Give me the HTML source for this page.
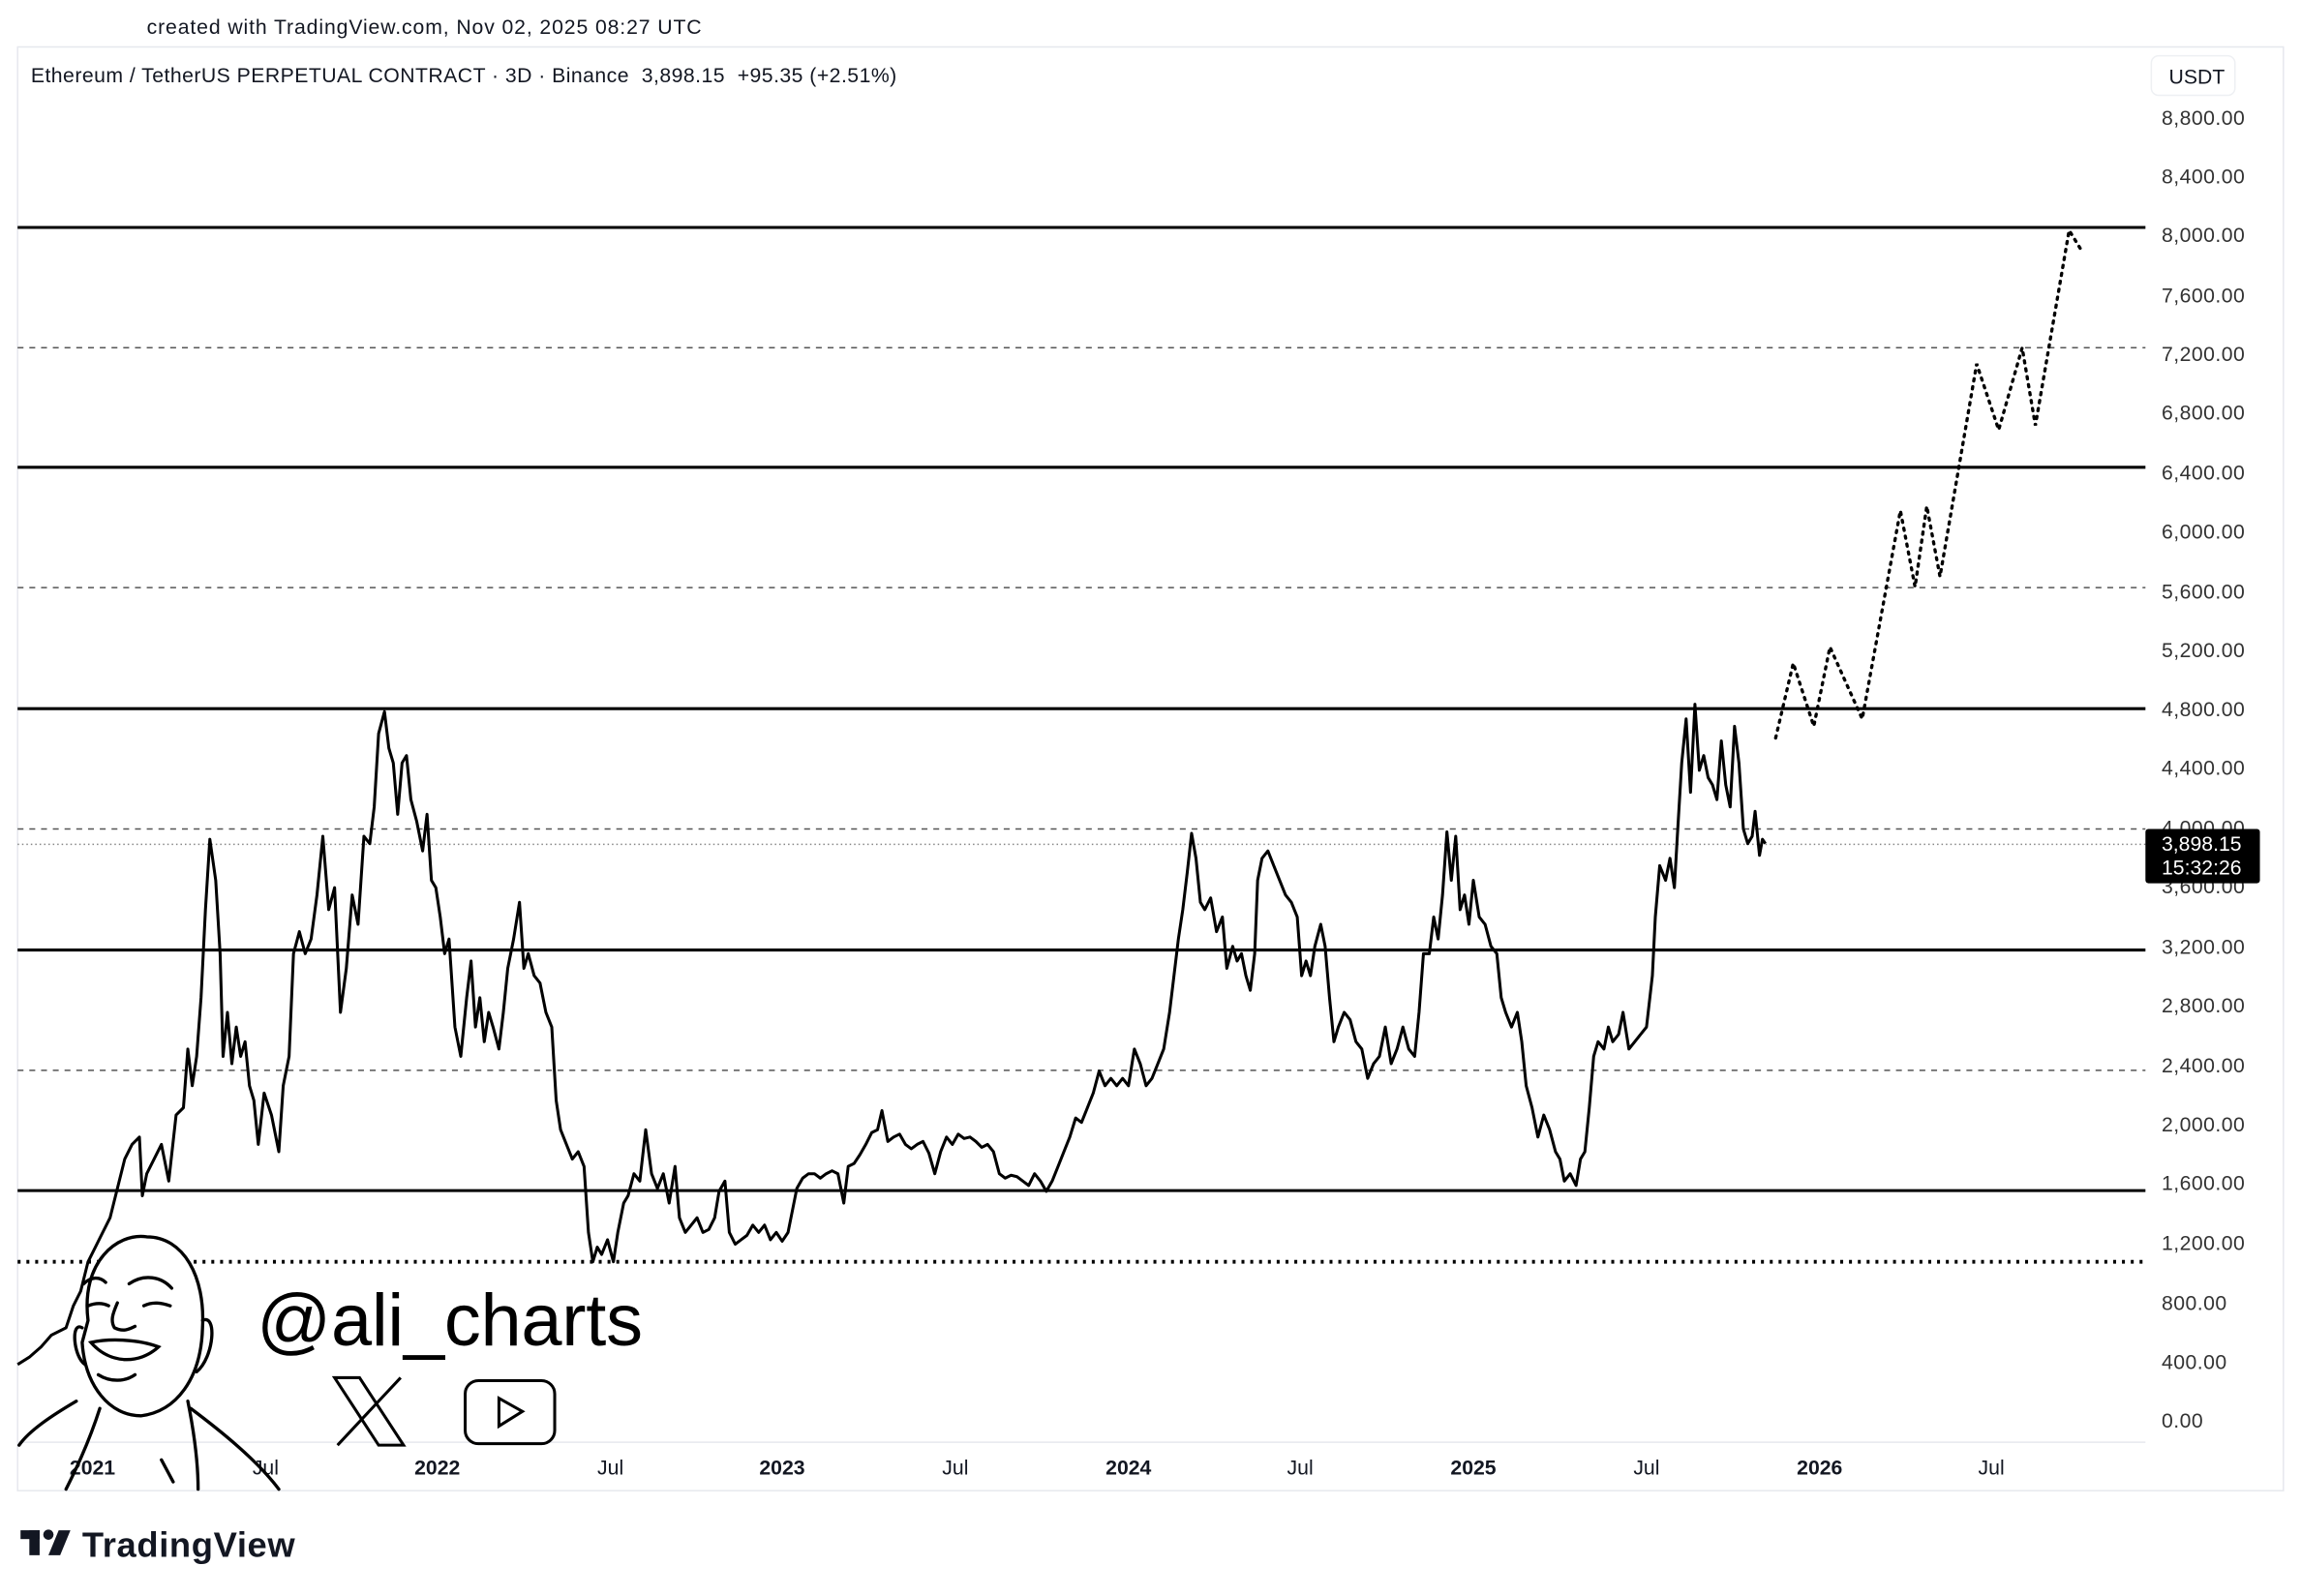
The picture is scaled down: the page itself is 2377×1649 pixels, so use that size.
<!DOCTYPE html>
<html><head><meta charset="utf-8"><style>
html,body{margin:0;padding:0;background:#fff;}
svg{display:block;}
text{font-family:"Liberation Sans",Arial,sans-serif;}
</style></head><body>
<svg width="2377" height="1649" viewBox="0 0 1568 1087.8" preserveAspectRatio="none" xmlns="http://www.w3.org/2000/svg">
<rect width="1568" height="1088" fill="#fff"/>
<text x="100" y="23" font-size="14" fill="#131722" textLength="378">created with TradingView.com, Nov 02, 2025 08:27 UTC</text>
<rect x="12" y="32" width="1544" height="984" fill="none" stroke="#e6e8ee" stroke-width="1"/>
<line x1="12" y1="983" x2="1462" y2="983" stroke="#e6e8ee" stroke-width="1"/>
<text x="21" y="56" font-size="14" fill="#131722" xml:space="preserve" style="white-space:pre" textLength="590">Ethereum / TetherUS PERPETUAL CONTRACT · 3D · Binance  3,898.15  +95.35 (+2.51%)</text>
<rect x="1466" y="38" width="57" height="27" rx="5" fill="#fff" stroke="#eef0f3"/>
<text x="1478" y="57" font-size="14" fill="#131722">USDT</text>
<g stroke="#000" stroke-width="2">
<line x1="12" y1="155" x2="1462" y2="155"/>
<line x1="12" y1="318.5" x2="1462" y2="318.5"/>
<line x1="12" y1="483" x2="1462" y2="483"/>
<line x1="12" y1="647.5" x2="1462" y2="647.5"/>
<line x1="12" y1="811.5" x2="1462" y2="811.5"/>
</g>
<g stroke="#555" stroke-width="1" stroke-dasharray="4,4">
<line x1="12" y1="237" x2="1462" y2="237"/>
<line x1="12" y1="400.5" x2="1462" y2="400.5"/>
<line x1="12" y1="565" x2="1462" y2="565"/>
<line x1="12" y1="729.5" x2="1462" y2="729.5"/>
</g>
<line x1="12" y1="860" x2="1462" y2="860" stroke="#000" stroke-width="2.5" stroke-dasharray="2,4"/>
<line x1="12" y1="575.5" x2="1462" y2="575.5" stroke="#888" stroke-width="1" stroke-dasharray="1,2"/>
<g font-size="14" fill="#333" letter-spacing="0.3">
<text x="1473" y="85">8,800.00</text>
<text x="1473" y="125">8,400.00</text>
<text x="1473" y="165">8,000.00</text>
<text x="1473" y="206">7,600.00</text>
<text x="1473" y="246">7,200.00</text>
<text x="1473" y="286">6,800.00</text>
<text x="1473" y="327">6,400.00</text>
<text x="1473" y="367">6,000.00</text>
<text x="1473" y="408">5,600.00</text>
<text x="1473" y="448">5,200.00</text>
<text x="1473" y="488">4,800.00</text>
<text x="1473" y="528">4,400.00</text>
<text x="1473" y="569">4,000.00</text>
<text x="1473" y="609">3,600.00</text>
<text x="1473" y="650">3,200.00</text>
<text x="1473" y="690">2,800.00</text>
<text x="1473" y="731">2,400.00</text>
<text x="1473" y="771">2,000.00</text>
<text x="1473" y="811">1,600.00</text>
<text x="1473" y="852">1,200.00</text>
<text x="1473" y="893">800.00</text>
<text x="1473" y="933">400.00</text>
<text x="1473" y="973">0.00</text>
</g>
<rect x="1462" y="565" width="78" height="37" rx="2" fill="#000"/>
<text x="1473" y="580" font-size="14" fill="#fff">3,898.15</text>
<text x="1473" y="596" font-size="14" fill="#fff">15:32:26</text>
<g font-size="14" fill="#131722">
<text x="63" y="1005" text-anchor="middle" font-weight="bold">2021</text>
<text x="181" y="1005" text-anchor="middle">Jul</text>
<text x="298" y="1005" text-anchor="middle" font-weight="bold">2022</text>
<text x="416" y="1005" text-anchor="middle">Jul</text>
<text x="533" y="1005" text-anchor="middle" font-weight="bold">2023</text>
<text x="651" y="1005" text-anchor="middle">Jul</text>
<text x="769" y="1005" text-anchor="middle" font-weight="bold">2024</text>
<text x="886" y="1005" text-anchor="middle">Jul</text>
<text x="1004" y="1005" text-anchor="middle" font-weight="bold">2025</text>
<text x="1122" y="1005" text-anchor="middle">Jul</text>
<text x="1240" y="1005" text-anchor="middle" font-weight="bold">2026</text>
<text x="1357" y="1005" text-anchor="middle">Jul</text>
</g>
<polyline fill="none" stroke="#000" stroke-width="2" stroke-linejoin="round" points="12,930 20,925 28,918 35,910 45,905 50,890 55,880 60,860 65,850 70,840 75,830 80,810 85,790 90,780 95,775 97,815 100,800 105,790 110,780 115,805 120,760 125,755 128,715 131,740 134,720 137,680 140,620 143,572 147,600 150,650 152,720 155,690 158,725 161,700 164,720 167,710 170,740 173,750 176,780 180,745 185,760 190,785 193,740 197,720 200,650 204,635 208,650 212,640 216,610 220,570 224,620 228,605 232,690 236,660 240,610 244,630 248,570 252,575 255,550 258,500 262,485 265,510 268,520 271,555 274,520 277,515 280,545 284,560 288,580 291,555 294,600 297,605 300,625 303,650 306,640 310,700 314,720 318,680 321,655 324,700 327,680 330,710 333,690 336,700 340,715 343,690 346,660 350,640 354,615 357,660 360,650 364,665 368,670 372,690 376,700 379,750 382,770 386,780 390,790 394,785 398,795 401,840 404,860 407,850 410,855 414,845 418,860 421,840 425,820 428,815 432,800 436,805 440,770 444,800 448,810 452,800 456,820 460,795 463,830 467,840 471,835 475,830 479,840 483,838 487,830 490,812 494,805 497,840 501,848 505,845 509,842 513,835 517,840 521,835 525,845 529,840 533,846 537,840 540,825 543,810 547,803 551,800 555,800 559,803 563,800 567,798 571,800 575,820 578,795 582,793 586,787 590,780 594,772 598,770 601,757 605,778 609,775 613,773 617,780 621,783 625,780 629,778 633,786 637,800 641,785 645,775 649,780 653,773 657,776 661,775 665,778 669,782 673,780 677,785 681,800 685,803 689,801 693,802 697,805 701,808 705,800 709,805 713,812 717,805 721,795 725,785 729,775 733,762 737,765 741,755 745,745 749,730 753,740 757,735 761,740 765,735 769,740 773,715 777,725 781,740 785,735 789,725 793,715 797,690 800,665 803,640 806,620 809,595 812,568 815,585 818,615 821,620 825,612 829,635 833,625 836,660 840,645 843,655 846,650 849,665 852,675 855,650 857,600 860,585 864,580 868,590 872,600 876,610 880,615 884,625 887,665 890,655 893,665 896,645 900,630 903,645 906,680 909,710 912,700 916,690 920,695 924,710 928,715 932,735 936,725 940,720 944,700 948,725 952,715 956,700 960,715 964,720 967,690 970,650 974,650 977,625 980,640 983,610 986,567 989,600 992,570 995,620 998,610 1001,630 1004,600 1008,625 1012,630 1016,645 1020,650 1023,680 1026,690 1030,700 1034,690 1037,710 1040,740 1044,755 1048,775 1052,760 1056,770 1060,785 1063,790 1066,805 1070,800 1074,808 1077,790 1080,785 1083,755 1086,720 1089,710 1093,715 1096,700 1099,710 1103,705 1106,690 1110,715 1114,710 1118,705 1122,700 1126,665 1128,625 1131,590 1135,600 1138,585 1141,605 1143,570 1146,520 1149,490 1152,540 1155,480 1158,525 1161,515 1164,530 1167,535 1170,545 1173,505 1176,535 1179,550 1182,495 1185,520 1188,565 1191,575 1194,570 1196,553 1199,583 1201,572 1203,575"/>
<polyline fill="none" stroke="#000" stroke-width="2.2" stroke-dasharray="1.5,4" stroke-linecap="round" points="1210,503 1222,452 1236,495 1247,441 1269,490 1295,348 1305,400 1313,345 1322,393 1347,248 1362,293 1378,237 1387,290 1410,157 1418,170"/>
<g fill="none" stroke="#000" stroke-width="2.2" stroke-linecap="round">
<path d="M60,900 C55,860 80,840 100,843 C125,843 140,870 138,905 C137,940 120,962 96,965 C75,965 58,945 56,915 Z" fill="#fff"/>
<path d="M138,900 C148,895 146,925 134,935"/>
<path d="M56,905 C48,900 50,925 58,930"/>
<path d="M57,875 C62,870 68,870 72,874"/>
<path d="M88,875 C98,868 110,870 117,878"/>
<path d="M60,890 C65,888 70,888 74,890"/>
<path d="M98,890 C104,887 110,888 116,890"/>
<path d="M80,888 C77,895 75,900 78,905 C84,908 88,906 92,904"/>
<path d="M62,915 C75,930 95,930 108,918 C95,913 75,912 62,915 Z"/>
<path d="M67,937 C75,942 85,942 92,937"/>
<path d="M52,955 C35,965 20,975 13,985"/>
<path d="M130,960 C150,975 175,995 190,1015"/>
<path d="M68,960 C60,985 50,1005 45,1015"/>
<path d="M128,955 C133,980 135,1000 135,1015"/>
<path d="M110,995 L118,1010"/>
</g>
<text x="175" y="917" font-size="50" fill="#000" textLength="263">@ali_charts</text>
<g fill="none" stroke="#000" stroke-width="2">
<path d="M228,939 L245,939 L275,985 L258,985 Z"/>
<path d="M273,939 L230,985"/>
<rect x="317" y="941" width="61" height="43" rx="9"/>
<path d="M340,953 L356,962 L340,972 Z"/>
</g>
<g fill="#131722">
<rect x="14" y="1043" width="13" height="6"/>
<rect x="20" y="1043" width="7" height="17"/>
<circle cx="33" cy="1046" r="3.5"/>
<path d="M40,1043 L48,1043 L41,1060 L33,1060 Z"/>
</g>
<text x="56" y="1061" font-size="24" font-weight="bold" fill="#131722" textLength="145">TradingView</text>
</svg>
</body></html>
